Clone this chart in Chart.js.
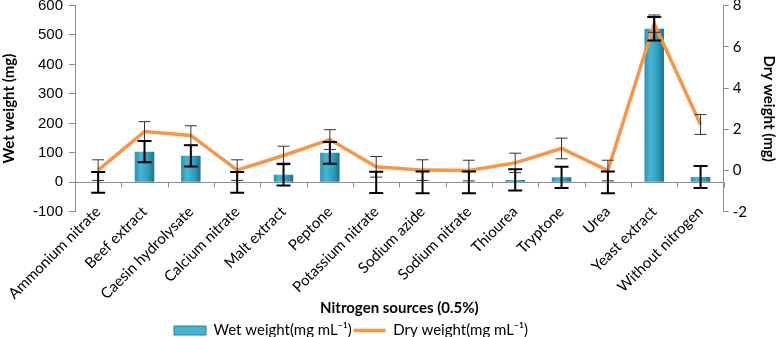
<!DOCTYPE html>
<html>
<head>
<meta charset="utf-8">
<script src="https://cdn.jsdelivr.net/npm/chart.js@4.4.1/dist/chart.umd.min.js"></script>
<style>
  html, body { margin: 0; padding: 0; background: #fff; }
  #wrap { width: 778px; height: 337px; position: relative; }
</style>
</head>
<body>
<div id="wrap"><canvas id="grafik"></canvas></div>
<script>
// kategoriler ve seriler
var categories = ['Ammonium nitrate', 'Beef extract', 'Caesin hydrolysate', 'Calcium nitrate', 'Malt extract', 'Peptone',
  'Potassium nitrate', 'Sodium azide', 'Sodium nitrate', 'Thiourea', 'Tryptone', 'Urea', 'Yeast extract', 'Without nitrogen'];
var wetWeight = [0, 104, 90, 0, 26, 100, 0, 0, 0, 8, 17, 0, 521, 18];
var wetError = [35, 36, 36, 35, 37, 37, 36, 37, 37, 36, 36, 37, 40, 37];
var dryWeight = [0.02, 1.89, 1.7, 0.02, 0.73, 1.5, 0.18, 0.02, 0.0, 0.37, 1.07, 0.0, 7.12, 2.23];
var dryError = [0.5, 0.48, 0.47, 0.5, 0.45, 0.48, 0.5, 0.5, 0.5, 0.47, 0.5, 0.5, 0.42, 0.48];
var wetTicks = [-100, 0, 100, 200, 300, 400, 500, 600];
var dryTicks = [-2, 0, 2, 4, 6, 8];

var fontMain = 'Lato, "Open Sans", sans-serif';

// bar gradient (silindir gibi)
function barFill(c) {
  var chart = c.chart;
  if (!chart.chartArea || c.type !== 'data') return '#35a3c4';
  var x = chart.scales.x.getPixelForValue(c.dataIndex);
  var g = chart.ctx.createLinearGradient(x - 10, 0, x + 10, 0);
  g.addColorStop(0, '#2b8eac');
  g.addColorStop(0.3, '#47b6d5');
  g.addColorStop(0.7, '#2f9bbb');
  g.addColorStop(1, '#1d6c87');
  return g;
}

// üst boşluğu küçült
function tightTop(s) { s.paddingTop = 5.5; }

// hata çubukları + sıfır çizgisi üzerindeki tick'ler
var errorBars = {
  id: 'errorBars',
  afterLayout: function (chart) {
    // lejantı biraz sola kaydır
    if (chart.legend) chart.legend.right -= 76;
    // etiketler grafik alanına biraz taşabilsin
    chart.scales.x._computeLabelArea = function () { return undefined; };
  },
  afterDatasetsDraw: function (chart) {
    var ctx = chart.ctx, x = chart.scales.x, y = chart.scales.y, y1 = chart.scales.y1;
    ctx.save();
    var y0 = y.getPixelForValue(0);
    ctx.strokeStyle = '#8c8c8c';
    ctx.lineWidth = 1;
    for (var k = 0; k <= categories.length; k++) {
      var xb = Math.round(x.getPixelForValue(k - 0.5)) + 0.5;
      ctx.beginPath(); ctx.moveTo(xb, y0); ctx.lineTo(xb, y0 + 5); ctx.stroke();
    }
    for (var i = 0; i < categories.length; i++) {
      var cx = x.getPixelForValue(i);
      // dry weight (ince)
      var t = y1.getPixelForValue(dryWeight[i] + dryError[i]);
      var b = y1.getPixelForValue(dryWeight[i] - dryError[i]);
      ctx.strokeStyle = '#333';
      ctx.lineWidth = 1;
      ctx.beginPath();
      ctx.moveTo(cx, t); ctx.lineTo(cx, b);
      ctx.moveTo(cx - 6, t); ctx.lineTo(cx + 6, t);
      ctx.moveTo(cx - 6, b); ctx.lineTo(cx + 6, b);
      ctx.stroke();
      // wet weight (kalın)
      t = y.getPixelForValue(wetWeight[i] + wetError[i]);
      b = y.getPixelForValue(wetWeight[i] - wetError[i]);
      ctx.strokeStyle = '#000';
      ctx.lineWidth = 2;
      ctx.beginPath();
      ctx.moveTo(cx, t); ctx.lineTo(cx, b);
      ctx.moveTo(cx - 7, t); ctx.lineTo(cx + 7, t);
      ctx.moveTo(cx - 7, b); ctx.lineTo(cx + 7, b);
      ctx.stroke();
    }
    ctx.restore();
  }
};

var ctxGrafik = document.getElementById('grafik').getContext('2d');
var grafik = new Chart(ctxGrafik, {
  data: {
    labels: categories,
    datasets: [
      {
        type: 'line',
        label: 'Dry weight(mg mL\u207B\u00B9)',
        data: dryWeight,
        yAxisID: 'y1',
        borderColor: '#f79646',
        backgroundColor: '#f79646',
        borderWidth: 3.5,
        pointRadius: 0,
        pointStyle: 'line',
        tension: 0,
        order: 0
      },
      {
        type: 'bar',
        label: 'Wet weight(mg mL\u207B\u00B9)',
        data: wetWeight,
        yAxisID: 'y',
        backgroundColor: barFill,
        borderWidth: 0,
        pointStyle: 'rect',
        barPercentage: 0.42,
        categoryPercentage: 1,
        order: 1
      }
    ]
  },
  options: {
    responsive: true,
    maintainAspectRatio: false,
    animation: false,
    layout: { padding: { top: 0, left: 0, right: 0, bottom: -11 } },
    plugins: {
      tooltip: { enabled: false },
      legend: {
        position: 'bottom',
        reverse: true,
        labels: {
          usePointStyle: true,
          pointStyleWidth: 32,
          boxHeight: 9,
          padding: 2,
          color: '#000',
          font: { family: fontMain, size: 15 },
          generateLabels: function (chart) {
            var items = Chart.defaults.plugins.legend.labels.generateLabels(chart);
            items.forEach(function (it) {
              if (it.pointStyle === 'rect') {
                it.fillStyle = '#43b4d4';
                it.strokeStyle = '#2a7f99';
                it.lineWidth = 1;
              }
            });
            return items;
          }
        }
      }
    },
    scales: {
      x: {
        offset: true,
        grid: { display: false, drawTicks: false },
        border: { display: false },
        ticks: {
          color: '#000',
          maxRotation: 45,
          minRotation: 45,
          autoSkip: false,
          padding: -9,
          font: { family: fontMain, size: 15 }
        },
        title: {
          display: true,
          text: 'Nitrogen sources (0.5%)',
          color: '#000',
          padding: { top: 5, bottom: 4 },
          font: { family: fontMain, size: 15, weight: 'bold' }
        }
      },
      y: {
        position: 'left',
        min: -100,
        max: 600,
        afterBuildTicks: function (s) { s.ticks = wetTicks.map(function (v) { return { value: v }; }); },
        afterFit: function (s) { tightTop(s); s.width = 75; },
        border: { display: true, color: '#8c8c8c' },
        grid: {
          drawOnChartArea: true,
          tickLength: 6,
          color: function (c) { return c.tick && c.tick.value === 0 ? '#8c8c8c' : 'rgba(0,0,0,0)'; },
          tickColor: '#8c8c8c'
        },
        ticks: { color: '#000', padding: 6, font: { family: '"Liberation Sans", Arial, sans-serif', size: 15 } },
        title: {
          display: true,
          text: 'Wet weight (mg)',
          color: '#000',
          padding: { top: 0, bottom: 2 },
          font: { family: fontMain, size: 15, weight: 'bold' }
        }
      },
      y1: {
        position: 'right',
        min: -2,
        max: 8,
        afterBuildTicks: function (s) { s.ticks = dryTicks.map(function (v) { return { value: v }; }); },
        afterFit: tightTop,
        border: { display: true, color: '#8c8c8c' },
        grid: { drawOnChartArea: false, tickLength: 5, tickColor: '#8c8c8c' },
        ticks: { color: '#000', padding: 4, font: { family: fontMain, size: 15 } },
        title: {
          display: true,
          text: 'Dry weight (mg)',
          color: '#000',
          padding: { top: 0, bottom: 9 },
          font: { family: fontMain, size: 15, weight: 'bold' }
        }
      }
    }
  },
  plugins: [errorBars]
});
</script>
</body>
</html>
